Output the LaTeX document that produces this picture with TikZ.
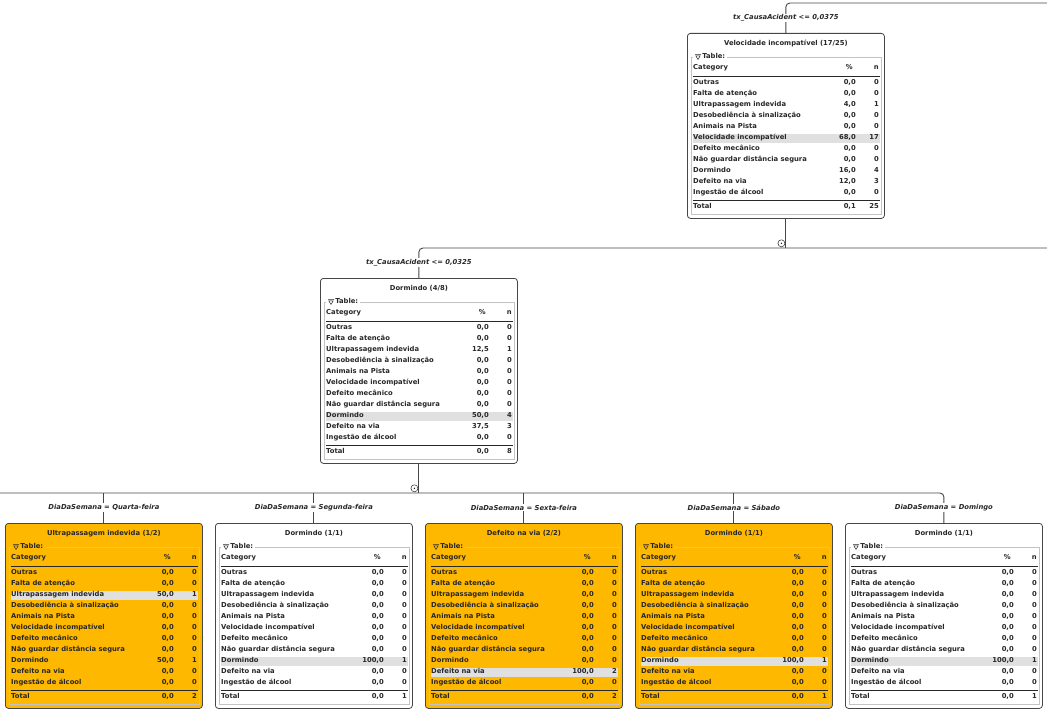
\documentclass[tikz,border=0pt]{standalone}
\usepackage{fontspec}
\setmainfont{DejaVu Sans}
\usetikzlibrary{calc}

\definecolor{leaforange}{RGB}{255,184,0}
\definecolor{rowgray}{RGB}{224,224,224}
\definecolor{framegray}{RGB}{195,195,195}
\definecolor{linkgray}{RGB}{70,70,70}
\definecolor{textgray}{RGB}{40,40,40}

% table inside a tree box: node, fill, title, highlighted row, pct/n list, total pct, total n
\newcommand{\cattable}[7]{%
  \node[celltext] (#1-title) at ($(#1.north)+(0,-11)$) {#3};
  \draw[framegray, line width=0.6pt] ($(#1.north west)+(4,-24)$) rectangle ($(#1.north east)+(-4,-181)$);
  \node[celltext, anchor=west, fill=#2, inner xsep=1.5pt] (#1-tab) at ($(#1.north west)+(6,-24)$) {\phantom{▽} Table:};
  \draw[textgray, line width=0.5pt] ($(#1-tab.west)+(2,2.3)$) -- ++(6,0) ($(#1-tab.west)+(2.8,1.2)$) -- ++(4.4,0) -- ++(-2.2,-3.6) -- cycle;
  \node[celltext, anchor=west] (#1-cat) at ($(#1.north west)+(6,-35)$) {Category};
  \node[celltext, anchor=east] (#1-pct) at ($(#1.north west)+(166,-35)$) {\%};
  \node[celltext, anchor=east] (#1-n) at ($(#1.north west)+(192,-35)$) {n};
  \draw[rule] ($(#1.north west)+(6,-43)$) -- ($(#1.north west)+(193,-43)$);
  \fill[rowgray] ($(#1.north west)+(6,{-45.5-11*(#4-1)})$) rectangle ($(#1.north west)+(193,{-54.5-11*(#4-1)})$);
  \foreach \cat [count=\i] in {Outras, Falta de atenção, Ultrapassagem indevida, Desobediência à sinalização, Animais na Pista, Velocidade incompatível, Defeito mecânico, Não guardar distância segura, Dormindo, Defeito na via, Ingestão de álcool}
    \node[celltext, anchor=west] at ($(#1.north west)+(6,{-50-11*(\i-1)})$) {\cat};
  \foreach \p/\k [count=\i] in {#5} {
    \node[celltext, anchor=east] at ($(#1.north west)+(169,{-50-11*(\i-1)})$) {\p};
    \node[celltext, anchor=east] at ($(#1.north west)+(192,{-50-11*(\i-1)})$) {\k};
  }
  \draw[rule] ($(#1.north west)+(6,-167)$) -- ($(#1.north west)+(193,-167)$);
  \node[celltext, anchor=west] (#1-total) at ($(#1.north west)+(6,-174)$) {Total};
  \node[celltext, anchor=east] at ($(#1.north west)+(169,-174)$) {#6};
  \node[celltext, anchor=east] at ($(#1.north west)+(192,-174)$) {#7};
}

\begin{document}
\begin{tikzpicture}[x=1pt, y=1pt,
  treebox/.style={draw=linkgray, fill=white, rounded corners=3pt, line width=0.8pt, minimum width=197pt, minimum height=185pt, anchor=north west, inner sep=0pt},
  celltext/.style={font=\fontsize{6.8}{8}\selectfont\bfseries, text=textgray, inner sep=0pt, text height=5.2pt, text depth=1.5pt},
  edgelabel/.style={font=\fontsize{6.8}{8}\selectfont\bfseries\itshape, text=textgray, fill=white, inner sep=1pt},
  link/.style={draw=linkgray, line width=0.9pt, rounded corners=4pt},
  rule/.style={draw=textgray, line width=0.8pt},
  collapse/.style={circle, draw=textgray, line width=0.5pt, minimum size=7pt, inner sep=0pt}]

\useasboundingbox (0,0) rectangle (1047,-709);

\node[treebox] (vinc) at (687,-33) {};
\node[treebox] (dorm48) at (320,-278) {};
\node[treebox, fill=leaforange] (quarta) at (5,-523) {};
\node[treebox] (segunda) at (215,-523) {};
\node[treebox, fill=leaforange] (sexta) at (425,-523) {};
\node[treebox, fill=leaforange] (sabado) at (635,-523) {};
\node[treebox] (domingo) at (845,-523) {};

\coordinate (topright) at (1047,-3);
\coordinate (midright) at (1047,-248);
\coordinate (lowleft) at (0,-493);

% connectors
\draw[link] (vinc.north) |- (topright);
\draw[link] (vinc.south) -- (vinc.south |- midright);
\draw[link] (dorm48.north) |- (midright);
\draw[link] (dorm48.south) -- (dorm48.south |- lowleft);
\draw[link] (domingo.north) |- (lowleft);
\foreach \leaf in {quarta,segunda,sexta,sabado}
  \draw[link] (\leaf.north) -- (\leaf.north |- lowleft);

\node[edgelabel] (lab-vinc) at ($(vinc.north)+(0,15)$) {tx\_CausaAcident <= 0,0375};
\node[edgelabel] (lab-dorm48) at ($(dorm48.north)+(0,15.5)$) {tx\_CausaAcident <= 0,0325};
\node[edgelabel] (lab-quarta) at ($(quarta.north)+(0,15.5)$) {DiaDaSemana = Quarta-feira};
\node[edgelabel] (lab-segunda) at ($(segunda.north)+(0,15.5)$) {DiaDaSemana = Segunda-feira};
\node[edgelabel] (lab-sexta) at ($(sexta.north)+(0,15.5)$) {DiaDaSemana = Sexta-feira};
\node[edgelabel] (lab-sabado) at ($(sabado.north)+(0,15.5)$) {DiaDaSemana = Sábado};
\node[edgelabel] (lab-domingo) at ($(domingo.north)+(0,15.5)$) {DiaDaSemana = Domingo};

\node[collapse] (fold-vinc) at ($(vinc.south)+(-4.5,-24.5)$) {};
\fill[textgray] (fold-vinc) circle (0.8);
\node[collapse] (fold-dorm48) at ($(dorm48.south)+(-4.5,-24.5)$) {};
\fill[textgray] (fold-dorm48) circle (0.8);

\cattable{vinc}{white}{Velocidade incompatível (17/25)}{6}
  {{0,0}/0, {0,0}/0, {4,0}/1, {0,0}/0, {0,0}/0, {68,0}/17, {0,0}/0, {0,0}/0, {16,0}/4, {12,0}/3, {0,0}/0}{0,1}{25}
\cattable{dorm48}{white}{Dormindo (4/8)}{9}
  {{0,0}/0, {0,0}/0, {12,5}/1, {0,0}/0, {0,0}/0, {0,0}/0, {0,0}/0, {0,0}/0, {50,0}/4, {37,5}/3, {0,0}/0}{0,0}{8}
\cattable{quarta}{leaforange}{Ultrapassagem indevida (1/2)}{3}
  {{0,0}/0, {0,0}/0, {50,0}/1, {0,0}/0, {0,0}/0, {0,0}/0, {0,0}/0, {0,0}/0, {50,0}/1, {0,0}/0, {0,0}/0}{0,0}{2}
\cattable{segunda}{white}{Dormindo (1/1)}{9}
  {{0,0}/0, {0,0}/0, {0,0}/0, {0,0}/0, {0,0}/0, {0,0}/0, {0,0}/0, {0,0}/0, {100,0}/1, {0,0}/0, {0,0}/0}{0,0}{1}
\cattable{sexta}{leaforange}{Defeito na via (2/2)}{10}
  {{0,0}/0, {0,0}/0, {0,0}/0, {0,0}/0, {0,0}/0, {0,0}/0, {0,0}/0, {0,0}/0, {0,0}/0, {100,0}/2, {0,0}/0}{0,0}{2}
\cattable{sabado}{leaforange}{Dormindo (1/1)}{9}
  {{0,0}/0, {0,0}/0, {0,0}/0, {0,0}/0, {0,0}/0, {0,0}/0, {0,0}/0, {0,0}/0, {100,0}/1, {0,0}/0, {0,0}/0}{0,0}{1}
\cattable{domingo}{white}{Dormindo (1/1)}{9}
  {{0,0}/0, {0,0}/0, {0,0}/0, {0,0}/0, {0,0}/0, {0,0}/0, {0,0}/0, {0,0}/0, {100,0}/1, {0,0}/0, {0,0}/0}{0,0}{1}

\end{tikzpicture}
\end{document}
